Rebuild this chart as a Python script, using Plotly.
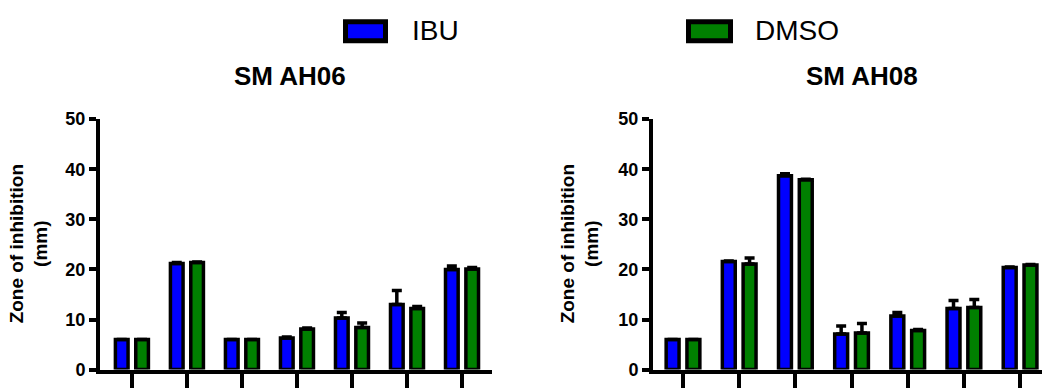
import plotly.graph_objects as go

W, H = 1042, 391

groups = [0, 1, 2, 3, 4, 5, 6]
series_names = ["IBU", "DMSO"]
series_colors = ["#0000FF", "#008000"]

ah06_ibu = [6.0, 21.2, 6.0, 6.3, 10.3, 13.0, 20.0]
ah06_ibu_err = [0.0, 0.2, 0.0, 0.2, 1.1, 2.8, 0.7]
ah06_dmso = [6.0, 21.4, 6.0, 8.1, 8.4, 12.2, 20.1]
ah06_dmso_err = [0.0, 0.1, 0.0, 0.2, 0.9, 0.4, 0.3]

ah08_ibu = [6.0, 21.6, 38.7, 7.1, 10.7, 12.2, 20.4]
ah08_ibu_err = [0.0, 0.1, 0.4, 1.6, 0.7, 1.6, 0.1]
ah08_dmso = [6.0, 21.1, 37.9, 7.3, 7.8, 12.4, 20.9]
ah08_dmso_err = [0.0, 1.2, 0.1, 1.9, 0.2, 1.6, 0.1]

titles = ["SM AH06", "SM AH08"]
y_title = "Zone of inhibition<br>(mm)"
y_ticks = [0, 10, 20, 30, 40, 50]

fig = go.Figure()

BAR_W = 0.23
OFFS = [-0.185 - BAR_W / 2, 0.185 - BAR_W / 2]

panels = [
    ("x", "y", [ah06_ibu, ah06_dmso], [ah06_ibu_err, ah06_dmso_err]),
    ("x2", "y2", [ah08_ibu, ah08_dmso], [ah08_ibu_err, ah08_dmso_err]),
]
for xa, ya, vals, errs in panels:
    for k in range(2):
        fig.add_trace(go.Bar(
            x=groups, y=vals[k], xaxis=xa, yaxis=ya,
            name=series_names[k], showlegend=False,
            width=BAR_W, offset=OFFS[k],
            marker=dict(color=series_colors[k], line=dict(color="black", width=3.5)),
            error_y=dict(type="data", symmetric=False, array=errs[k],
                         arrayminus=[0] * len(errs[k]),
                         color="black", thickness=3.5, width=5),
        ))

ydom = [12 / H, 276 / H]
axis_common = dict(showgrid=False, zeroline=False, showline=True, linecolor="black",
                   linewidth=4, ticks="outside", tickcolor="black", tickwidth=4)
fig.update_layout(
    width=W, height=H,
    margin=dict(l=0, r=0, t=0, b=0),
    paper_bgcolor="white", plot_bgcolor="white",
    barmode="overlay",
    font=dict(family="Liberation Sans, Arial, sans-serif", color="black"),
    xaxis=dict(domain=[100 / W, 492 / W], range=[-0.58, 6.545], tickvals=groups,
               showticklabels=False, ticklen=14, anchor="y", **axis_common),
    yaxis=dict(domain=ydom, range=[0, 50], tickvals=y_ticks, ticklen=7,
               tickfont=dict(size=18, family="Liberation Sans, Arial", weight="bold"),
               anchor="x", **axis_common),
    xaxis2=dict(domain=[653 / W, 1.0], range=[-0.534, 6.39], tickvals=groups,
                showticklabels=False, ticklen=14, anchor="y2", **axis_common),
    yaxis2=dict(domain=ydom, range=[0, 50], tickvals=y_ticks, ticklen=7,
                tickfont=dict(size=18, family="Liberation Sans, Arial", weight="bold"),
                anchor="x2", **axis_common),
)

ann = []
# panel titles
for cx, t in [(290, titles[0]), (862, titles[1])]:
    ann.append(dict(x=cx / W, y=(H - 70) / H, xref="paper", yref="paper", text="<b>%s</b>" % t,
                    showarrow=False, xanchor="center", yanchor="middle",
                    font=dict(size=26)))
# y axis titles
for cx in [29, 580]:
    ann.append(dict(x=cx / W, y=(H - 247) / H, xref="paper", yref="paper", text="<b>%s</b>" % y_title,
                    showarrow=False, xanchor="center", yanchor="middle", textangle=-90,
                    font=dict(size=19)))
# legend
shapes = []
for (x0, x1, tx), name, col in zip([(343, 388, 410), (686, 733, 753)], series_names, series_colors):
    shapes.append(dict(type="rect", xref="paper", yref="paper",
                       x0=(x0 + 2.5) / W, x1=(x1 - 2.5) / W,
                       y0=(H - 32.5) / H, y1=(H - 12.5) / H,
                       fillcolor=col, line=dict(color="black", width=5)))
    ann.append(dict(x=tx / W, y=(H - 22) / H, xref="paper", yref="paper", text=name,
                    showarrow=False, xanchor="left", yanchor="middle",
                    font=dict(size=28)))
fig.update_layout(annotations=ann, shapes=shapes)

fig.write_html("out.html")
